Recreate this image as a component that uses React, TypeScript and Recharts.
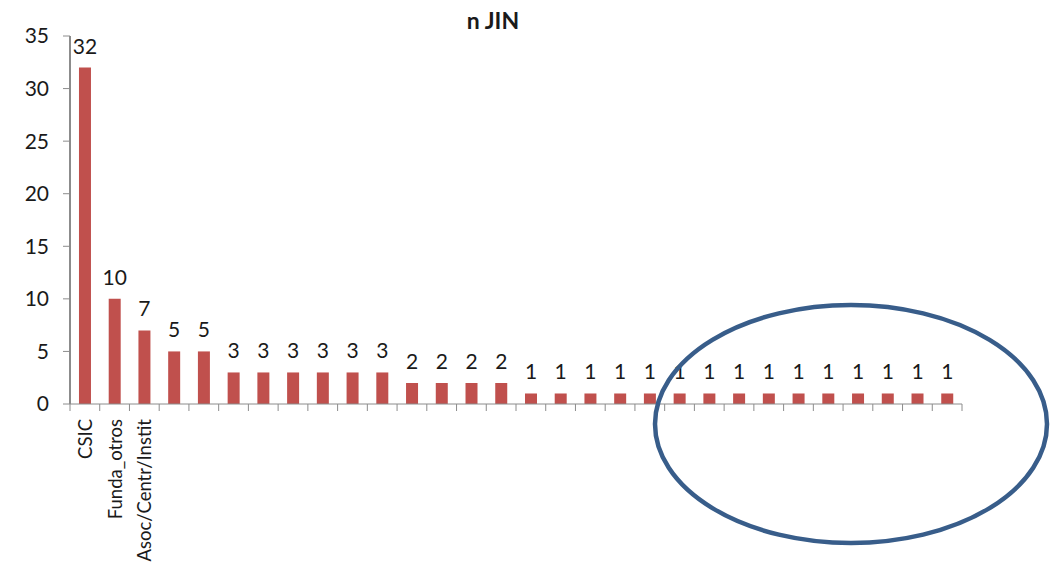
import { BarChart, Bar, XAxis, YAxis, LabelList } from "recharts";

const categories = [
  "CSIC", "Funda_otros", "Asoc/Centr/Instit", "", "", "", "", "", "", "", "", "", "", "", "",
  "", "", "", "", "", "", "", "", "", "", "", "", "", "", "",
];
const values = [32, 10, 7, 5, 5, 3, 3, 3, 3, 3, 3, 2, 2, 2, 2, 1, 1, 1, 1, 1, 1, 1, 1, 1, 1, 1, 1, 1, 1, 1];
const yTicks = [0, 5, 10, 15, 20, 25, 30, 35];

const data = categories.map((name, i) => ({ name, value: values[i] }));

const FONT = "Lato, 'Open Sans', sans-serif";
const AXIS = "#8c8c8c";
const STEP = 892 / values.length;

// excel-style ticks sit between categories, labels rotated
function CatTick(props: any) {
  const { x, y, payload, index } = props;
  return (
    <g>
      <line x1={x - STEP / 2} x2={x - STEP / 2} y1={y} y2={y + 7} stroke={AXIS} strokeWidth={1} />
      {index === values.length - 1 && (
        <line x1={x + STEP / 2} x2={x + STEP / 2} y1={y} y2={y + 7} stroke={AXIS} strokeWidth={1} />
      )}
      {payload.value ? (
        <text
          x={x}
          y={y + 15}
          transform={`rotate(-90, ${x}, ${y + 15})`}
          textAnchor="end"
          dominantBaseline="central"
          fontSize={18.5}
          fontFamily={FONT}
          fill="#1a1a1a"
        >
          {payload.value}
        </text>
      ) : null}
    </g>
  );
}

export default function App() {
  return (
    <div style={{ position: "absolute", left: 0, top: 0, width: 1052, height: 576, background: "#fff" }}>
      <div style={{ position: "absolute", left: 493, top: 6, transform: "translateX(-50%)", fontFamily: FONT, fontWeight: 700, fontSize: 23, color: "#1a1a1a" }}>
        n JIN
      </div>
      <BarChart
        width={1052}
        height={576}
        data={data}
        margin={{ top: 36, right: 90, bottom: 0, left: 0 }}
        style={{ position: "absolute", left: 0, top: 0 }}
      >
        <YAxis
          width={70}
          domain={[0, 35]}
          ticks={yTicks}
          interval={0}
          tickSize={7}
          tickMargin={14}
          axisLine={{ stroke: AXIS, strokeWidth: 2 }}
          tickLine={{ stroke: AXIS }}
          tick={{ fill: "#1a1a1a", fontSize: 21, fontFamily: FONT }}
        />
        <XAxis
          dataKey="name"
          height={172}
          interval={0}
          tickSize={0}
          tickMargin={0}
          axisLine={{ stroke: AXIS, strokeWidth: 1 }}
          tickLine={false}
          tick={<CatTick />}
        />
        <Bar dataKey="value" fill="#C0504D" isAnimationActive={false} maxBarSize={12}>
          <LabelList dataKey="value" position="top" offset={14} fill="#1a1a1a" fontSize={21} fontFamily={FONT} />
        </Bar>
      </BarChart>
      <svg width={1052} height={576} style={{ position: "absolute", left: 0, top: 0, pointerEvents: "none" }}>
        <ellipse cx={851} cy={424} rx={196} ry={119} fill="none" stroke="#385d8a" strokeWidth={4.5} />
      </svg>
    </div>
  );
}
